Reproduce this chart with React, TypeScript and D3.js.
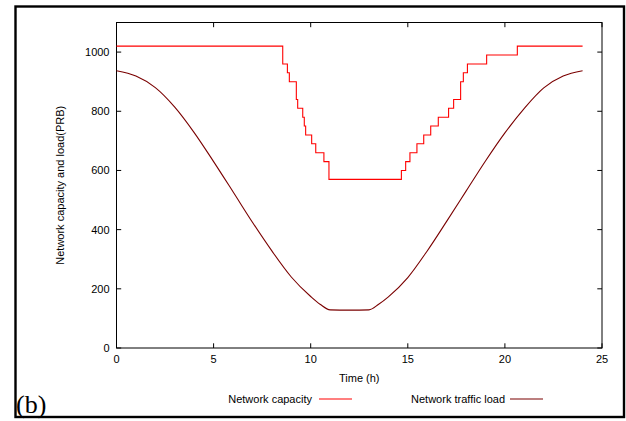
import React from "react";
import * as d3 from "d3";

const capTimes = [0, 8.56, 8.8, 8.9, 9.26, 9.33, 9.59, 9.67, 9.74, 10.05, 10.26, 10.68, 10.94, 14.67, 14.89, 15.11, 15.47, 15.82, 16.18, 16.57, 17.1, 17.36, 17.72, 17.86, 18.07, 19.06, 20.64, 24];
const capValues = [1020, 960, 930, 900, 840, 810, 780, 750, 720, 690, 660, 630, 570, 600, 630, 660, 690, 720, 750, 780, 810, 840, 900, 930, 960, 990, 1020, 1020];

const loadTimes = [0, 1, 2, 3, 4, 5, 6, 7, 8, 9, 10, 10.5, 11, 12, 13, 13.5, 14, 15, 16, 17, 18, 19, 20, 21, 22, 23, 24];
const loadValues = [937, 919, 880, 814, 728, 630, 528, 425, 328, 240, 174, 147, 129, 128, 129, 148, 173, 238, 328, 428, 530, 632, 727, 810, 879, 919, 937];

const xTicks = [0, 5, 10, 15, 20, 25];
const yTicks = [0, 200, 400, 600, 800, 1000];

const W = 626;
const H = 421;
const L = 116.5, R = 602, T = 22.5, B = 348;

export default function App() {
  const x = d3.scaleLinear().domain([0, 25]).range([L, R]);
  const y = d3.scaleLinear().domain([0, 1100]).range([B, T]);
  const cap = capTimes.map((t, i) => [t, capValues[i]] as [number, number]);
  const load = loadTimes.map((t, i) => [t, loadValues[i]] as [number, number]);
  const capLine = d3.line<[number, number]>().x(d => x(d[0])).y(d => y(d[1])).curve(d3.curveStepAfter);
  const loadLine = d3.line<[number, number]>().x(d => x(d[0])).y(d => y(d[1])).curve(d3.curveMonotoneX);
  const sans = "'Liberation Sans', Arial, sans-serif";
  const tick = 4.7;
  return (
    <svg width={W} height={H} style={{ position: "absolute", left: 0, top: 0, background: "#fff" }}>
      <rect x={15.5} y={6.5} width={608.5} height={410.5} fill="none" stroke="#000" strokeWidth={2.4} />
      <rect x={L} y={T} width={R - L} height={B - T} fill="none" stroke="#000" strokeWidth={1} />
      {yTicks.map(v => (
        <g key={"y" + v}>
          <line x1={L} x2={L + tick} y1={y(v)} y2={y(v)} stroke="#000" />
          <line x1={R} x2={R - tick} y1={y(v)} y2={y(v)} stroke="#000" />
          <text x={L - 7} y={y(v)} dy="0.36em" textAnchor="end" fontFamily={sans} fontSize={11}>{v}</text>
        </g>
      ))}
      {xTicks.map(v => (
        <g key={"x" + v}>
          <line x1={x(v)} x2={x(v)} y1={B} y2={B - tick} stroke="#000" />
          <line x1={x(v)} x2={x(v)} y1={T} y2={T + tick} stroke="#000" />
          <text x={x(v)} y={363} textAnchor="middle" fontFamily={sans} fontSize={11}>{v}</text>
        </g>
      ))}
      <path d={loadLine(load) || ""} fill="none" stroke="#7a0000" strokeWidth={1.1} />
      <path d={capLine(cap) || ""} fill="none" stroke="#ff0000" strokeWidth={1.1} />
      <text x={(L + R) / 2} y={382} textAnchor="middle" fontFamily={sans} fontSize={11}>Time (h)</text>
      <text transform={`translate(64,${(T + B) / 2}) rotate(-90)`} textAnchor="middle" fontFamily={sans} fontSize={11}>Network capacity and load(PRB)</text>
      <text x={312} y={403} textAnchor="end" fontFamily={sans} fontSize={11}>Network capacity</text>
      <line x1={319} x2={352} y1={399} y2={399} stroke="#ff0000" strokeWidth={1.1} />
      <text x={505} y={403} textAnchor="end" fontFamily={sans} fontSize={11}>Network traffic load</text>
      <line x1={510} x2={543} y1={399} y2={399} stroke="#7a0000" strokeWidth={1.1} />
      <text x={16} y={413} fontFamily="'Liberation Serif', 'DejaVu Serif', serif" fontSize={26}>(b)</text>
    </svg>
  );
}
